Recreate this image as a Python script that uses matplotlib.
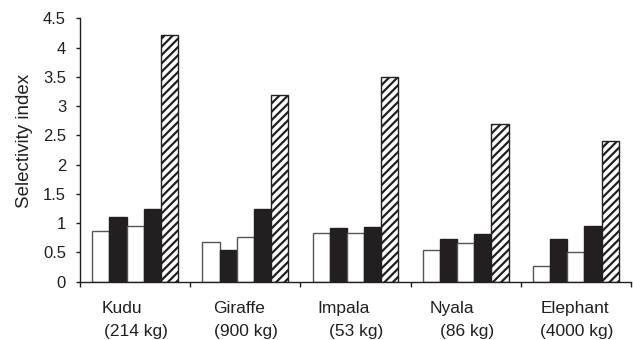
import numpy as np
import matplotlib
matplotlib.use("Agg")
import matplotlib.pyplot as plt
from matplotlib.ticker import FormatStrFormatter

plt.rcParams['font.family'] = ['Liberation Sans', 'DejaVu Sans']
plt.rcParams['hatch.linewidth'] = 1.6

# Datos
especies = ["Kudu", "Giraffe", "Impala", "Nyala", "Elephant"]
pesos = ["(214 kg)", "(900 kg)", "(53 kg)", "(86 kg)", "(4000 kg)"]

serie1 = [0.86, 0.67, 0.84, 0.55, 0.26]
serie2 = [1.11, 0.54, 0.91, 0.73, 0.73]
serie3 = [0.96, 0.77, 0.84, 0.66, 0.50]
serie4 = [1.25, 1.24, 0.94, 0.82, 0.96]
serie5 = [4.21, 3.19, 3.49, 2.69, 2.41]

series = [serie1, serie2, serie3, serie4, serie5]
estilos = [dict(color="white", edgecolor="#555555"),
           dict(color="#231f20", edgecolor="#231f20"),
           dict(color="white", edgecolor="#555555"),
           dict(color="#231f20", edgecolor="#231f20"),
           dict(color="white", edgecolor="#231f20", hatch="////")]

fig = plt.figure(figsize=(6.33, 3.40), dpi=100)
ax = fig.add_axes([80/633, 58.3/340, 551/633, 263.4/340])

x = np.arange(len(especies))
ancho = 0.156
for j in range(5):
    ax.bar(x + (j - 2)*ancho, series[j], ancho, linewidth=1.0, **estilos[j])

ax.set_xlim(-0.5, 4.5)
ax.set_ylim(0, 4.5)
ax.set_yticks(np.arange(0, 4.51, 0.5))
ax.yaxis.set_major_formatter(FormatStrFormatter('%g'))
ax.set_xticks(np.arange(-0.5, 4.6, 1))
ax.set_xticklabels([])
ax.tick_params(axis='x', direction='out', length=3.6, width=1, colors="#231f20")
ax.tick_params(axis='y', direction='out', length=3, width=1, colors="#231f20",
               labelsize=12, labelcolor="#231f20", pad=7)

for s in ["top", "right"]:
    ax.spines[s].set_visible(False)
for s in ["left", "bottom"]:
    ax.spines[s].set_linewidth(1)
    ax.spines[s].set_color("#231f20")

ax.set_ylabel("Selectivity index", fontsize=13.5, color="#231f20")
ax.yaxis.set_label_coords(-0.0853, 0.534)

# Etiquetas de categoria: nombre algo desplazado a la izquierda, peso centrado
x_nombre = [-0.300, 0.707, 1.657, 2.676, 3.681]
trans = ax.get_xaxis_transform()
for i in range(len(especies)):
    ax.text(x_nombre[i], -0.12, especies[i], transform=trans, ha="left", va="baseline",
            fontsize=12.5, color="#231f20")
    ax.text(x[i] + 0.01, -0.206, pesos[i], transform=trans, ha="center", va="baseline",
            fontsize=12.5, color="#231f20")

plt.savefig("out.png", dpi=100)
